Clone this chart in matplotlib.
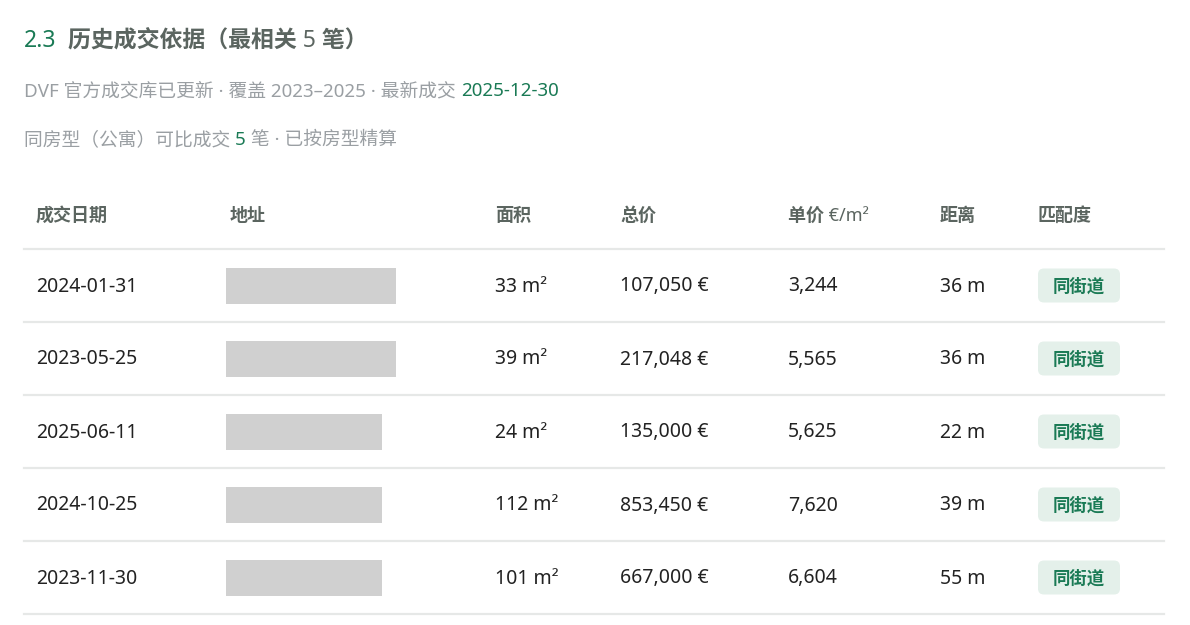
import matplotlib
matplotlib.use("Agg")
import matplotlib.pyplot as plt
from matplotlib.patches import FancyBboxPatch, Rectangle

plt.rcParams['font.family'] = ['Noto Sans', 'Noto Sans CJK SC', 'DejaVu Sans']

headers = ["成交日期", "地址", "面积", "总价", "单价 €/m²", "距离", "匹配度"]
dates = ["2024-01-31", "2023-05-25", "2025-06-11", "2024-10-25", "2023-11-30"]
addr_widths = [170, 170, 156, 156, 156]
areas = ["33 m²", "39 m²", "24 m²", "112 m²", "101 m²"]
prices = ["107,050 €", "217,048 €", "135,000 €", "853,450 €", "667,000 €"]
unit_prices = ["3,244", "5,565", "5,625", "7,620", "6,604"]
distances = ["36 m", "36 m", "22 m", "39 m", "55 m"]
matches = ["同街道"] * 5

W, H = 1190, 625
fig = plt.figure(figsize=(11.9, 6.25), dpi=100)
ax = fig.add_axes([0, 0, 1, 1])
ax.set_xlim(0, W); ax.set_ylim(H, 0); ax.axis('off')
fig.canvas.draw()
r = fig.canvas.get_renderer()

GREEN = "#1a7a55"; GREY = "#9a9fa3"; HEAD = "#5b6560"; DARK = "#222222"

def seq(x, y, parts, size):
    for txt, col, w in parts:
        t = ax.text(x, y, txt, color=col, fontsize=size, fontweight=w, va='center', ha='left')
        bb = t.get_window_extent(r)
        x += bb.width
    return x

seq(24, 41, [("2.3", GREEN, 'bold'), ("  历史成交依据（最相关 5 笔）", HEAD, 'bold')], 16.5)
seq(24, 91, [("DVF 官方成交库已更新 · 覆盖 2023–2025 · 最新成交 ", GREY, 'normal'),
             ("2025-12-30", GREEN, 'bold')], 13.5)
seq(24, 140, [("同房型（公寓）可比成交 ", GREY, 'normal'), ("5", GREEN, 'bold'),
              (" 笔 · 已按房型精算", GREY, 'normal')], 13.5)

cols = [36, 230, 495, 620, 788, 940, 1038]
for c, h in zip(cols, headers):
    ax.text(c, 216, h, color=HEAD, fontsize=13, fontweight='bold', va='center')

lines = [249, 322, 395, 468, 541, 614]
for y in lines:
    ax.plot([24, 1164], [y, y], color="#e6e8e7", lw=1.6)

for i in range(5):
    yc = (lines[i] + lines[i + 1]) / 2
    ax.text(cols[0], yc + 1, dates[i], color=DARK, fontsize=14, va='center')
    ax.add_patch(Rectangle((226, yc - 18), addr_widths[i], 36, color="#d0d0d0", lw=0))
    ax.text(cols[2], yc + 1, areas[i], color=DARK, fontsize=14, va='center')
    ax.text(cols[3], yc + 1, prices[i], color=DARK, fontsize=14, va='center')
    ax.text(cols[4], yc + 1, unit_prices[i], color=DARK, fontsize=14, va='center')
    ax.text(cols[5], yc + 1, distances[i], color=DARK, fontsize=14, va='center')
    ax.add_patch(FancyBboxPatch((1038, yc - 17), 82, 34, boxstyle="round,pad=0,rounding_size=6",
                                color="#e4f0ea", lw=0))
    ax.text(1079, yc + 1, matches[i], color=GREEN, fontsize=12.5, fontweight='bold', va='center', ha='center')

fig.savefig("out.png", dpi=100, facecolor="white")
